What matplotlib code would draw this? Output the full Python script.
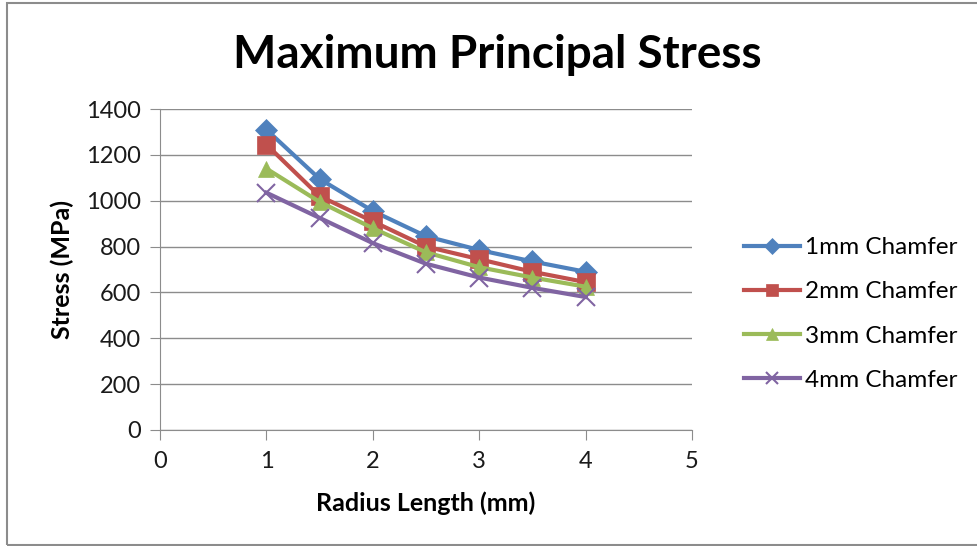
import matplotlib.pyplot as plt
from matplotlib.patches import Rectangle

plt.rcParams["font.family"] = ["Lato", "DejaVu Sans"]

radius = [1, 1.5, 2, 2.5, 3, 3.5, 4]
stress_1mm = [1310, 1095, 955, 845, 785, 735, 690]
stress_2mm = [1245, 1020, 910, 800, 745, 690, 645]
stress_3mm = [1140, 995, 880, 775, 710, 665, 625]
stress_4mm = [1035, 925, 815, 725, 665, 620, 580]
labels = ["1mm Chamfer", "2mm Chamfer", "3mm Chamfer", "4mm Chamfer"]

colors = ["#4F81BD", "#C0504D", "#9BBB59", "#8064A2"]
markers = ["D", "s", "^", "x"]
sizes = [11, 13, 12, 13]

W, H = 977, 546
fig = plt.figure(figsize=(W / 100, H / 100), dpi=100)
ax = fig.add_axes([160 / W, 1 - 430 / H, (692 - 160) / W, (430 - 109) / H])

for ys, lab, c, m, ms in zip(
    [stress_1mm, stress_2mm, stress_3mm, stress_4mm], labels, colors, markers, sizes
):
    ax.plot(radius, ys, color=c, lw=3, marker=m, markersize=ms,
            markeredgewidth=1.5 if m == "x" else 0.5, markeredgecolor=c, label=lab)

ax.set_xlim(0, 5)
ax.set_ylim(0, 1400)
ax.set_xticks(range(0, 6))
ax.set_yticks(range(0, 1401, 200))
ax.grid(axis="y", color="#8C8C8C", lw=1)
ax.set_axisbelow(True)
for side in ["top", "right"]:
    ax.spines[side].set_visible(False)
for side in ["left", "bottom"]:
    ax.spines[side].set_color("#8C8C8C")
ax.tick_params(axis="both", labelsize=17, length=7, color="#8C8C8C", labelcolor="#1A1A1A")
ax.tick_params(axis="x", pad=8)
ax.tick_params(axis="y", pad=7)

ax.set_xlabel("Radius Length (mm)", fontsize=18, fontweight="bold", labelpad=14)
ax.set_ylabel("Stress (MPa)", fontsize=18, fontweight="bold", labelpad=8)
fig.text(497 / W, 1 - 55 / H, "Maximum Principal Stress", fontsize=33,
         fontweight="bold", ha="center", va="center")

fig.legend(loc="center left", bbox_to_anchor=(722 / W, 1 - 314 / H), frameon=False,
           fontsize=17.5, handlelength=2.3, labelspacing=0.95, handletextpad=0.2,
           markerscale=0.7)

fig.patches.append(Rectangle((7 / W, 1 / H), 1.0, 1 - 4 / H, transform=fig.transFigure,
                             fill=False, edgecolor="#8C8C8C", lw=1.5))

fig.savefig("out.png", dpi=100)
